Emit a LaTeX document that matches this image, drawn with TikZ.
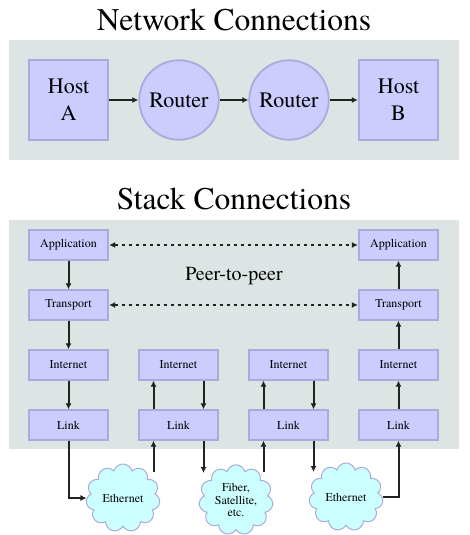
\documentclass[tikz,border=0pt]{standalone}
\usepackage{fontspec}
\setmainfont{texgyretermes}[Extension=.otf, UprightFont=*-regular, BoldFont=*-bold, ItalicFont=*-italic]
\usetikzlibrary{arrows.meta,shapes.symbols}

\definecolor{panelgray}{HTML}{DCE4E4}
\definecolor{boxfill}{HTML}{CCCCFF}
\definecolor{boxline}{HTML}{AAAADD}
\definecolor{cloudfill}{HTML}{CCFFFF}
\definecolor{arrowgray}{HTML}{222222}

\begin{document}
\begin{tikzpicture}[x=1pt,y=-1pt,
    title/.style={font=\fontsize{31.5}{38}\selectfont, anchor=base},
    host/.style={shape=rectangle, draw=boxline, fill=boxfill, line width=1.8pt, minimum size=79.5pt, inner sep=0pt, align=center, font=\fontsize{22}{27}\selectfont},
    router/.style={shape=circle, draw=boxline, fill=boxfill, line width=1.8pt, minimum size=79.5pt, inner sep=0pt, font=\fontsize{22}{27}\selectfont},
    layer/.style={shape=rectangle, draw=boxline, fill=boxfill, line width=1.8pt, minimum width=79.5pt, minimum height=29.5pt, inner sep=0pt, font=\fontsize{12}{14}\selectfont},
    net/.style={shape=cloud, cloud puffs=11, draw=boxline, fill=cloudfill, line width=1pt, minimum width=74pt, minimum height=64pt, inner sep=0pt, align=center, font=\fontsize{12}{12.5}\selectfont},
    flow/.style={-{Latex[length=6pt,width=6pt]}, draw=arrowgray, line width=2pt},
    peer/.style={{Latex[length=6pt,width=6pt]}-{Latex[length=6pt,width=6pt]}, draw=arrowgray, line width=1.6pt, dash pattern=on 3pt off 4pt}]

                \useasboundingbox (0,0) rectangle (469,535);

                \fill[panelgray] (9,40) rectangle (459,160);
                \fill[panelgray] (9,220) rectangle (459,449);

                \node[title] (nettitle) at (234,31) {Network Connections};
                \node[title] (stacktitle) at (234,209) {Stack Connections};

                \node[host] (hostA) at (68.5,100) {Host\\A};
                \node[router] (router1) at (179,100) {Router};
                \node[router] (router2) at (289,100) {Router};
                \node[host] (hostB) at (398.5,100) {Host\\B};

                \draw[flow] (hostA) -- (router1);
                \draw[flow] (router1) -- (router2);
                \draw[flow] (router2) -- (hostB);

                \node[layer] (app1) at (68.5,245) {Application};
                \node[layer] (tr1) at (68.5,305) {Transport};
                \node[layer] (in1) at (68.5,365) {Internet};
                \node[layer] (li1) at (68.5,425) {Link};

                \node[layer] (in2) at (178.5,365) {Internet};
                \node[layer] (li2) at (178.5,425) {Link};

                \node[layer] (in3) at (288.5,365) {Internet};
                \node[layer] (li3) at (288.5,425) {Link};

                \node[layer] (app4) at (398.5,245) {Application};
                \node[layer] (tr4) at (398.5,305) {Transport};
                \node[layer] (in4) at (398.5,365) {Internet};
                \node[layer] (li4) at (398.5,425) {Link};

                \node[font=\fontsize{20}{24}\selectfont, anchor=base] (p2p) at (234,280) {Peer-to-peer};

                \draw[peer] (app1) -- (app4);
                \draw[peer] (tr1) -- (tr4);

                \draw[flow] (app1) -- (tr1);
                \draw[flow] (tr1) -- (in1);
                \draw[flow] (in1) -- (li1);

                \draw[flow] (li4) -- (in4);
                \draw[flow] (in4) -- (tr4);
                \draw[flow] (tr4) -- (app4);

                \draw[flow] ([xshift=-25pt]li2.north) -- ([xshift=-25pt]in2.south);
                \draw[flow] ([xshift=25pt]in2.south) -- ([xshift=25pt]li2.north);
                \draw[flow] ([xshift=-25pt]li3.north) -- ([xshift=-25pt]in3.south);
                \draw[flow] ([xshift=25pt]in3.south) -- ([xshift=25pt]li3.north);

                \node[net] (eth1) at (123,498) {Ethernet};
                \node[net] (fiber) at (236,500) {Fiber,\\Satellite,\\etc.};
                \node[net] (eth2) at (346,497) {Ethernet};

                \coordinate (eth1out) at (153.5,472);
                \coordinate (fiberin) at (203.5,473);
                \coordinate (fiberout) at (263.5,472);
                \coordinate (eth2in) at (313.5,472);

                \draw[flow] (li1.south) |- (eth1.west);
                \draw[flow] (eth1out) -- (eth1out |- li2.south);
                \draw[flow] (fiberin |- li2.south) -- (fiberin);
                \draw[flow] (fiberout) -- (fiberout |- li3.south);
                \draw[flow] (eth2in |- li3.south) -- (eth2in);
                \draw[flow] (eth2.east) -| (li4.south);

            \end{tikzpicture}
\end{document}
